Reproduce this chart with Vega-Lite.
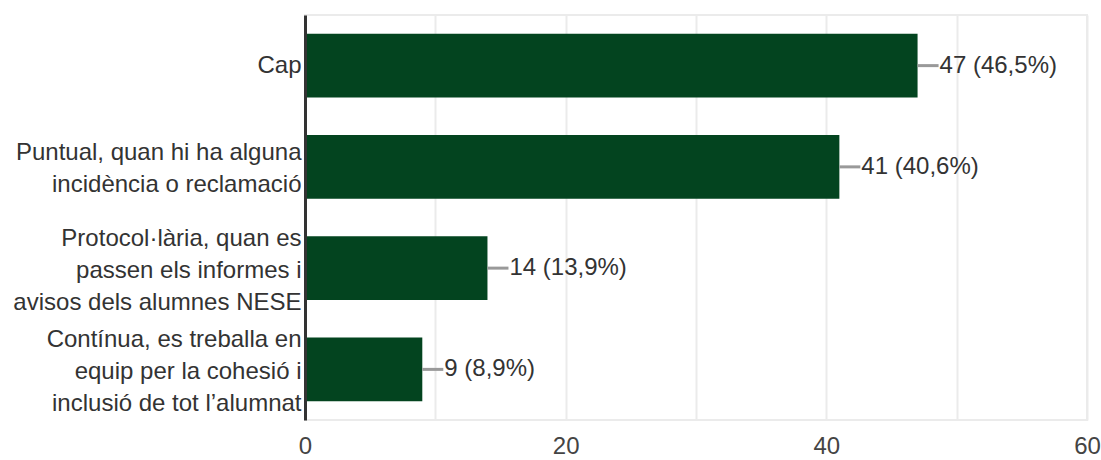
{
  "$schema": "https://vega.github.io/schema/vega-lite/v6.json",
  "autosize": {"type": "none"},
  "width": 782,
  "height": 405,
  "padding": {"left": 305, "top": 15, "right": 14, "bottom": 40},
  "background": "white",
  "config": {
    "view": {"stroke": "#ebebeb", "strokeWidth": 2},
    "font": "Liberation Sans"
  },
  "data": {
    "values": [
      {"label": "Cap", "count": 47, "text": "47 (46,5%)"},
      {"label": "Puntual, quan hi ha alguna|incidència o reclamació", "count": 41, "text": "41 (40,6%)"},
      {"label": "Protocol·lària, quan es|passen els informes i|avisos dels alumnes NESE", "count": 14, "text": "14 (13,9%)"},
      {"label": "Contínua, es treballa en|equip per la cohesió i|inclusió de tot l’alumnat", "count": 9, "text": "9 (8,9%)"}
    ]
  },
  "encoding": {
    "y": {
      "field": "label",
      "type": "nominal",
      "sort": null,
      "scale": {"paddingInner": 0.368, "paddingOuter": 0.184},
      "axis": {
        "title": null,
        "labelExpr": "split(datum.label, '|')",
        "labelFont": "Liberation Sans",
        "labelFontSize": 24,
        "labelColor": "#333333",
        "labelLineHeight": 32,
        "labelBaseline": "middle",
        "labelOffset": {
          "condition": [
            {"test": "length(split(datum.value, '|')) == 3", "value": -29},
            {"test": "length(split(datum.value, '|')) == 2", "value": -14}
          ],
          "value": 0
        },
        "labelPadding": 4,
        "labelLimit": 400,
        "ticks": false,
        "domainColor": "#333333",
        "domainWidth": 3,
        "grid": false,
        "zindex": 2
      }
    }
  },
  "layer": [
    {
      "mark": {"type": "bar", "color": "#03441F"},
      "encoding": {
        "x": {
          "field": "count",
          "type": "quantitative",
          "scale": {"domain": [0, 60], "nice": false},
          "axis": {
            "title": null,
            "values": [0, 10, 20, 30, 40, 50, 60],
            "labelExpr": "datum.value % 20 == 0 ? datum.label : ''",
            "labelFont": "Liberation Sans",
            "labelFontSize": 24,
            "labelColor": "#444444",
            "labelPadding": 14,
            "labelFlush": false,
            "ticks": false,
            "domain": false,
            "grid": true,
            "gridColor": "#ebebeb",
            "gridWidth": 2
          }
        }
      }
    },
    {
      "mark": {"type": "rule", "color": "#999999", "strokeWidth": 3, "x2Offset": 21},
      "encoding": {
        "x": {"field": "count", "type": "quantitative"},
        "x2": {"field": "count"}
      }
    },
    {
      "mark": {"type": "text", "align": "left", "baseline": "middle", "dx": 22, "fontSize": 24, "color": "#333333", "font": "Liberation Sans"},
      "encoding": {
        "x": {"field": "count", "type": "quantitative"},
        "text": {"field": "text"}
      }
    }
  ]
}
